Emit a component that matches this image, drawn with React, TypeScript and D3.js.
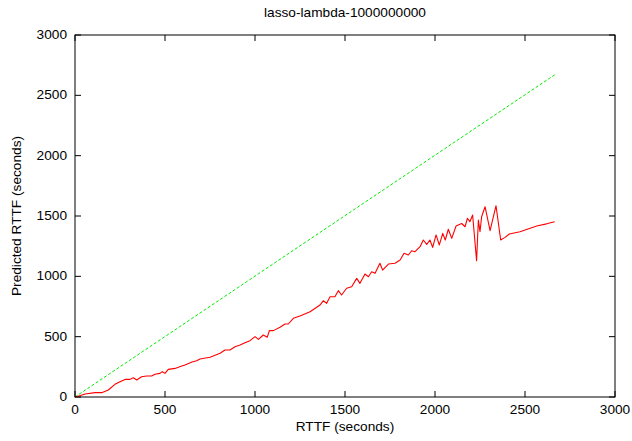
import React from "react";
import * as d3 from "d3";

const title = "lasso-lambda-1000000000";
const xLabel = "RTTF (seconds)";
const yLabel = "Predicted RTTF (seconds)";
const xTicks = [0, 500, 1000, 1500, 2000, 2500, 3000];
const yTicks = [0, 500, 1000, 1500, 2000, 2500, 3000];

const idealX = [0, 2665];
const idealY = [0, 2670];

const predX = [0, 30, 56, 111, 148, 185, 222, 250, 278, 306, 324, 343, 370, 398, 426, 444, 472, 485, 500, 518, 556, 593, 611, 650, 676, 694, 750, 806, 833, 861, 889, 917, 944, 972, 1000, 1019, 1046, 1068, 1080, 1102, 1139, 1167, 1185, 1213, 1250, 1306, 1361, 1380, 1398, 1417, 1444, 1463, 1481, 1509, 1537, 1565, 1583, 1611, 1630, 1648, 1667, 1694, 1709, 1741, 1778, 1806, 1828, 1852, 1870, 1889, 1917, 1935, 1954, 1972, 1987, 2006, 2024, 2043, 2057, 2074, 2093, 2117, 2148, 2167, 2180, 2194, 2209, 2231, 2241, 2250, 2259, 2278, 2306, 2339, 2365, 2389, 2413, 2472, 2565, 2620, 2665];
const predY = [0, 12, 25, 36, 36, 58, 105, 127, 146, 146, 160, 141, 168, 174, 174, 188, 196, 210, 196, 229, 237, 257, 265, 290, 301, 315, 329, 362, 390, 390, 417, 431, 450, 467, 500, 478, 514, 495, 550, 550, 578, 605, 605, 652, 671, 707, 762, 798, 776, 831, 831, 881, 845, 901, 914, 983, 942, 1019, 997, 1038, 1025, 1108, 1052, 1102, 1108, 1135, 1191, 1177, 1212, 1204, 1246, 1301, 1265, 1301, 1240, 1343, 1260, 1356, 1301, 1390, 1315, 1417, 1438, 1411, 1481, 1453, 1508, 1130, 1467, 1370, 1494, 1577, 1378, 1585, 1301, 1323, 1351, 1370, 1417, 1435, 1453];

const W = 632;
const H = 441;
const L = 75, R = 615, T = 35, B = 397;
const FONT = "'Liberation Sans', Arial, Helvetica, sans-serif";
const SX = 1.14;

function T2({ x, y, anchor, rotate, children }: { x: number; y: number; anchor: string; rotate?: number; children: React.ReactNode }) {
  const rot = rotate ? ` rotate(${rotate})` : "";
  return (
    <text transform={`translate(${x},${y})${rot} scale(${SX},1)`} textAnchor={anchor} fill="#000">
      {children}
    </text>
  );
}

export default function App() {
  const x = d3.scaleLinear().domain([0, 3000]).range([L, R]);
  const y = d3.scaleLinear().domain([0, 3000]).range([B, T]);
  const line = d3.line<[number, number]>().x((d) => x(d[0])).y((d) => y(d[1]));
  const ideal = line(idealX.map((v, i) => [v, idealY[i]]) as [number, number][]) || "";
  const pred = line(predX.map((v, i) => [v, predY[i]]) as [number, number][]) || "";
  const tl = 6;
  return (
    <svg width={W} height={H} style={{ position: "absolute", left: 0, top: 0, background: "#fff" }} fontFamily={FONT} fontSize={12}>
      <rect x={0} y={0} width={W} height={H} fill="#fff" />
      <T2 x={(L + R) / 2} y={17} anchor="middle">{title}</T2>
      {xTicks.map((t) => (
        <g key={"x" + t}>
          <line x1={x(t)} x2={x(t)} y1={B} y2={B - tl} stroke="#000" />
          <line x1={x(t)} x2={x(t)} y1={T} y2={T + tl} stroke="#000" />
          <T2 x={x(t)} y={414} anchor="middle">{t}</T2>
        </g>
      ))}
      {yTicks.map((t) => (
        <g key={"y" + t}>
          <line x1={L} x2={L + tl} y1={y(t)} y2={y(t)} stroke="#000" />
          <line x1={R} x2={R - tl} y1={y(t)} y2={y(t)} stroke="#000" />
          <T2 x={67} y={y(t) + 4} anchor="end">{t}</T2>
        </g>
      ))}
      <path d={ideal} fill="none" stroke="#00ee00" strokeWidth={1} strokeDasharray="3,2" />
      <path d={pred} fill="none" stroke="#ff0000" strokeWidth={1.1} strokeLinejoin="round" />
      <rect x={L} y={T} width={R - L} height={B - T} fill="none" stroke="#000" strokeWidth={1} />
      <T2 x={(L + R) / 2} y={431} anchor="middle">{xLabel}</T2>
      <T2 x={21} y={(T + B) / 2} anchor="middle" rotate={-90}>{yLabel}</T2>
    </svg>
  );
}
